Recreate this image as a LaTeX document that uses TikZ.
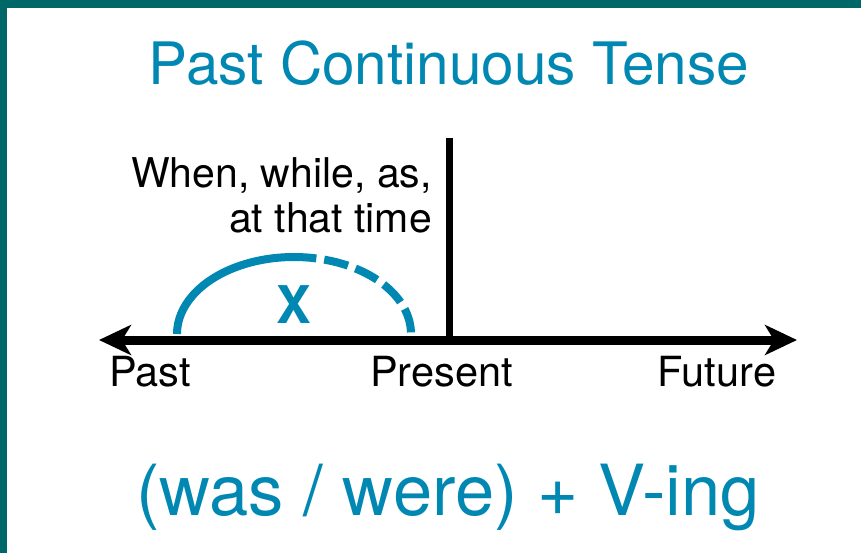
\documentclass[tikz,border=0pt]{standalone}
\usepackage{fontspec}
\setmainfont{TeX Gyre Heros}
\usetikzlibrary{arrows.meta}

\definecolor{frameteal}{RGB}{0,103,104}
\definecolor{tenseblue}{RGB}{0,136,179}

\tikzset{
    axisline/.style={line width=9pt, {Stealth[length=32pt, width=30pt, inset=9pt]}-{Stealth[length=32pt, width=30pt, inset=9pt]}},
    nowline/.style={line width=7pt},
    arcline/.style={line width=8pt, tenseblue},
    timelabel/.style={font=\fontsize{41.5}{46}\selectfont, inner sep=0pt, anchor=base}
}

\begin{document}
\begin{tikzpicture}[x=1pt, y=-1pt]
    \useasboundingbox (0, 0) rectangle (861, 553);
    \fill[white] (0, 0) rectangle (861, 553);
    \fill[frameteal] (0, 0) rectangle (861, 8);
    \fill[frameteal] (0, 0) rectangle (7, 553);

    \node[tenseblue, font=\fontsize{58.5}{62}\selectfont, inner sep=0pt, anchor=base] (title) at (449, 85) {Past Continuous Tense};

    \coordinate (pastend) at (99, 340);
    \coordinate (futend) at (797, 340);
    \coordinate (nowtop) at (449, 138);
    \coordinate (nowbot) at (449, 340);
    \draw[nowline] (nowtop) -- (nowbot);
    \draw[axisline] (pastend) -- (futend);

    \node[timelabel] (past) at (150, 386) {Past};
    \node[timelabel] (present) at (441.5, 386) {Present};
    \node[timelabel] (future) at (717, 386) {Future};

    \node[font=\fontsize{41}{45}\selectfont, align=right, inner sep=0pt, anchor=north east] (when) at (432, 157) {When, while, as,\\at that time};

    \coordinate (arcstart) at (177, 334);
    \draw[arcline] (arcstart) arc[start angle=180, end angle=79, x radius=117pt, y radius=77pt] coordinate (arcmid);
    \draw[arcline, dash pattern=on 24.5pt off 8pt, dash phase=24.5pt] (arcmid) arc[start angle=79, end angle=0, x radius=117pt, y radius=77pt];
    \node[tenseblue, font=\bfseries\fontsize{52}{54}\selectfont, inner sep=0pt] (x) at (294, 305) {X};

    \node[tenseblue, font=\fontsize{70.5}{74}\selectfont, inner sep=0pt, anchor=base] (rule) at (448, 515) {(was / were) + V-ing};
\end{tikzpicture}
\end{document}
